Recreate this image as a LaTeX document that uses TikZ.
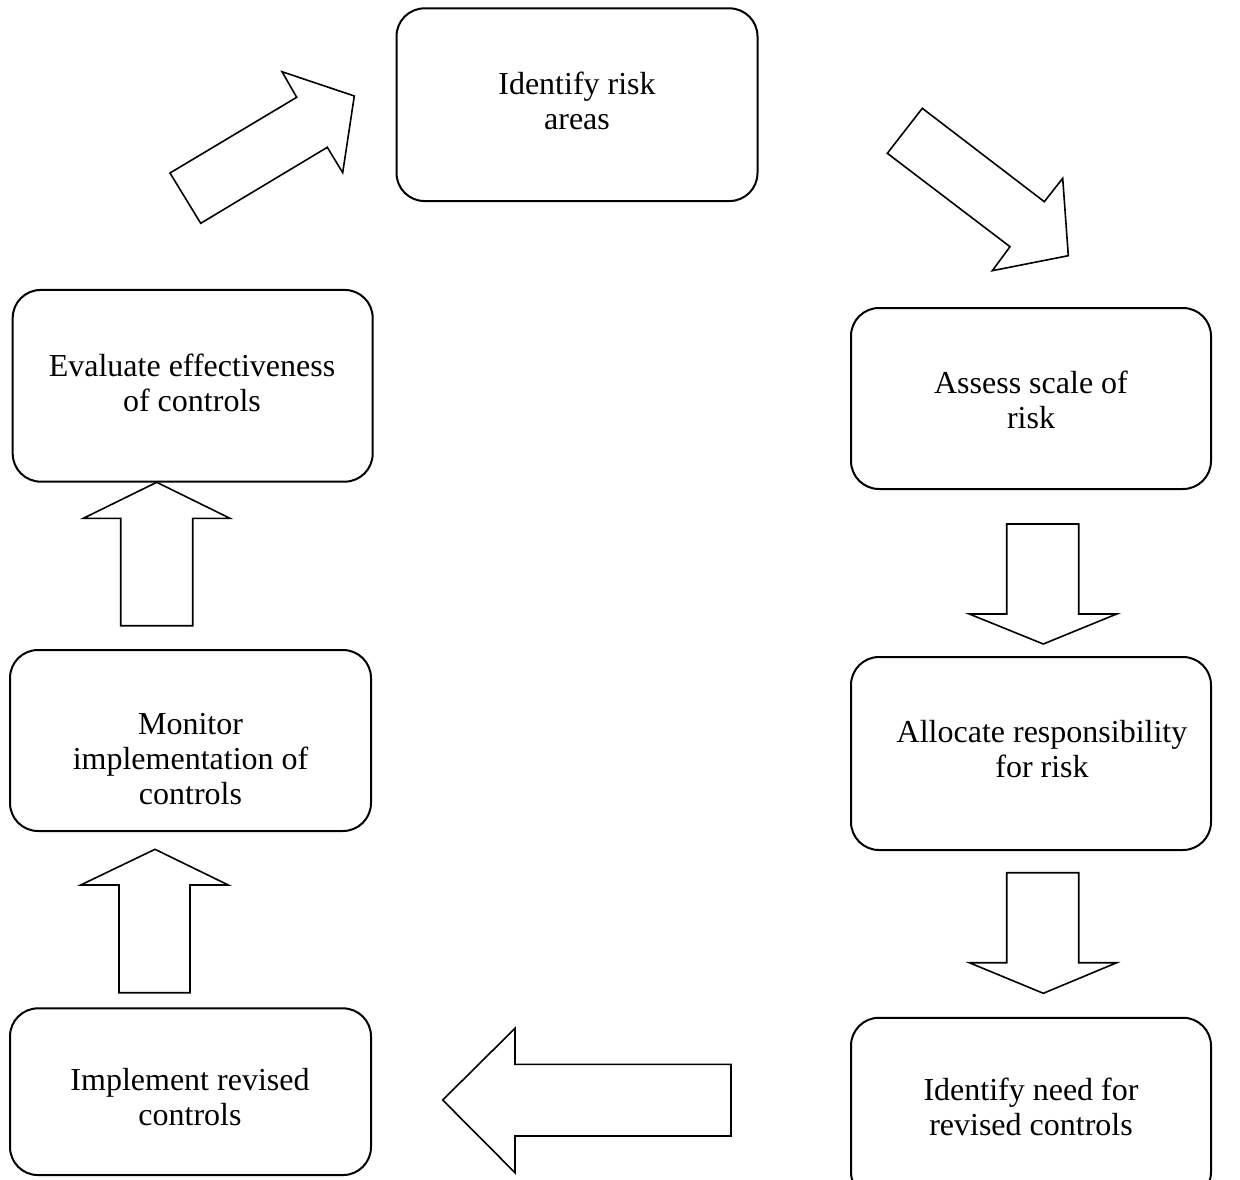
\documentclass[tikz,border=0pt]{standalone}
\usepackage{fontspec}
\setmainfont{Liberation Serif}
\begin{document}
\begin{tikzpicture}[x=1pt,y=-1pt,
  box/.style={draw, line width=2pt, rectangle, rounded corners=28pt, inner sep=0pt},
  txt/.style={align=center, inner sep=0pt, anchor=north, font=\fontsize{32}{35}\selectfont},
  blockarrow/.style={draw, line width=1.6pt, line join=miter, fill=white}]
\useasboundingbox (0,0) rectangle (1240,1180);
\fill[white] (0,0) rectangle (1240,1180);
\clip (0,0) rectangle (1240,1180);

% boxes
\node[box, minimum width=361pt, minimum height=192.7pt] (identify) at (577,104.7) {};
\node[box, minimum width=360pt, minimum height=181pt] (assess) at (1031,398.5) {};
\node[box, minimum width=360pt, minimum height=193pt] (allocate) at (1031,753.5) {};
\node[box, minimum width=360pt, minimum height=182.3pt] (need) at (1031,1108.9) {};
\node[box, minimum width=361pt, minimum height=166.7pt] (implement) at (190.5,1091.7) {};
\node[box, minimum width=361pt, minimum height=181pt] (monitor) at (190.5,740.5) {};
\node[box, minimum width=360pt, minimum height=191.7pt] (evaluate) at (192.7,385.8) {};

% texts
\node[txt] (tidentify) at (577,71.5) {Identify risk\\areas};
\node[txt] (tassess) at (1031,371) {Assess scale of\\risk};
\node[txt] (tallocate) at (1042,720) {Allocate responsibility\\for risk};
\node[txt] (tneed) at (1031,1078) {Identify need for\\revised controls};
\node[txt] (timplement) at (190,1068) {Implement revised\\controls};
\node[txt] (tmonitor) at (190.5,713) {Monitor\\implementation of\\controls};
\node[txt] (tevaluate) at (192,354) {Evaluate effectiveness\\of controls};

% block arrows
\draw[blockarrow] (170,173) -- (296.7,97.3) -- (282,71.7) -- (354.3,96) -- (342.7,172.7) -- (327.3,147.3) -- (200.7,223.3) -- cycle;
\draw[blockarrow] (922.3,108.3) -- (1044.3,201.7) -- (1062.7,178.3) -- (1068.3,255.7) -- (992.3,270.7) -- (1010,246.7) -- (887.3,153.3) -- cycle;
\draw[blockarrow] (1006.7,524) -- (1078.7,524) -- (1078.7,614) -- (1116.7,614) -- (1043.3,644) -- (969.3,614) -- (1006.7,614) -- cycle;
\draw[blockarrow] (1006.7,872.7) -- (1078.7,872.7) -- (1078.7,962.7) -- (1116.7,962.7) -- (1043.3,993.3) -- (969.3,962.7) -- (1006.7,962.7) -- cycle;
\draw[blockarrow] (442.7,1100) -- (515,1028.3) -- (515,1064.3) -- (731,1064.3) -- (731,1136) -- (515,1136) -- (515,1172.7) -- cycle;
\draw[blockarrow] (155,849.3) -- (228.3,885) -- (190,885) -- (190,992.7) -- (119,992.7) -- (119,885) -- (80.7,885) -- cycle;
\draw[blockarrow] (156.7,482.3) -- (230,518.3) -- (192.7,518.3) -- (192.7,625.7) -- (120.7,625.7) -- (120.7,518.3) -- (83.3,518.3) -- cycle;
\end{tikzpicture}
\end{document}
